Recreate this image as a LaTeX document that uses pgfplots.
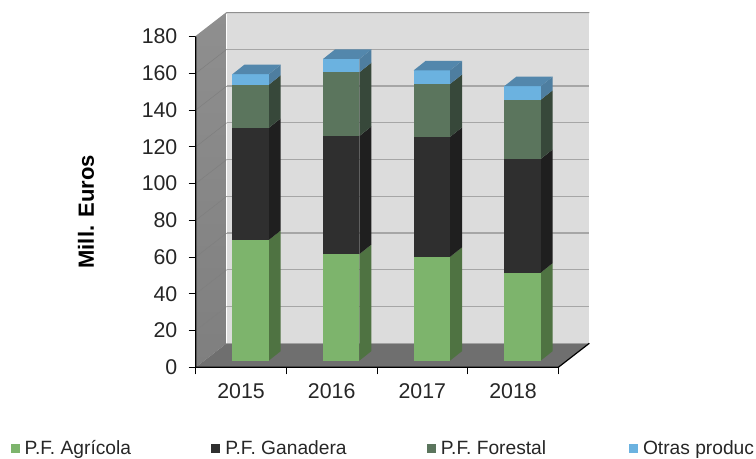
\documentclass[border=0pt]{standalone}
\usepackage{fontspec}
\setmainfont{Liberation Sans}
\usepackage{pgfplots}
\pgfplotsset{compat=1.18}

\definecolor{wallback}{HTML}{DCDCDC}
\definecolor{walltop}{HTML}{8F8F8F}
\definecolor{wallbot}{HTML}{7F7F7F}
\definecolor{floorc}{HTML}{6F6F6F}
\definecolor{gridc}{HTML}{A6A6A6}
\definecolor{gridside}{HTML}{7F7F7F}
\definecolor{agri}{HTML}{7DB46C}
\definecolor{agriS}{HTML}{4F7342}
\definecolor{gana}{HTML}{2F2F2F}
\definecolor{ganaS}{HTML}{1F1F1F}
\definecolor{fore}{HTML}{5B755D}
\definecolor{foreS}{HTML}{37483A}
\definecolor{otra}{HTML}{6BB2E0}
\definecolor{otraS}{HTML}{4E7EA0}
\definecolor{otraT}{HTML}{5387AC}

% depth of the walls and of the bars, in axis units
\newcommand{\wdx}{0.342}
\newcommand{\wdy}{13.06}

% one block of a bar: category, bottom, top, front colour, side colour
\newcommand{\barblock}[5]{%
  \pgfmathsetmacro\xl{#1+0.404}%
  \pgfmathsetmacro\xr{\xl+0.4015}%
  \pgfmathsetmacro\xb{\xr+0.132}%
  \pgfmathsetmacro\yl{#2+3.6}%
  \pgfmathsetmacro\yt{#3+3.6}%
  \pgfmathsetmacro\ylb{\yl+5.17}%
  \pgfmathsetmacro\ytb{\yt+5.17}%
  \addplot[forget plot,draw=none,fill=#5] coordinates {(\xr,\yl) (\xb,\ylb) (\xb,\ytb) (\xr,\yt)} --cycle;
  \addplot[forget plot,draw=none,fill=#4] coordinates {(\xl,\yl) (\xr,\yl) (\xr,\yt) (\xl,\yt)} --cycle;
}
% a whole stacked bar: category and the four values
\newcommand{\stackbar}[5]{%
  \pgfmathsetmacro\sa{#2}%
  \pgfmathsetmacro\sb{\sa+#3}%
  \pgfmathsetmacro\sc{\sb+#4}%
  \pgfmathsetmacro\sd{\sc+#5}%
  \barblock{#1}{0}{\sa}{agri}{agriS}%
  \barblock{#1}{\sa}{\sb}{gana}{ganaS}%
  \barblock{#1}{\sb}{\sc}{fore}{foreS}%
  \barblock{#1}{\sc}{\sd}{otra}{otraS}%
  \pgfmathsetmacro\xa{\xl+0.132}%
  \addplot[forget plot,draw=none,fill=otraT] coordinates {(\xl,\yt) (\xr,\yt) (\xb,\ytb) (\xa,\ytb)} --cycle;
}

\begin{document}
\begin{tikzpicture}
\useasboundingbox (0,0) rectangle (567pt,344.25pt);
\begin{axis}[
    at={(146.8pt,68.8pt)},
    anchor=origin,
    scale only axis,
    width=295.2pt,
    height=266pt,
    clip=false,
    xmin=0, xmax=4.342,
    ymin=0, ymax=193.06,
    axis x line*=bottom,
    axis y line*=left,
    axis line style={draw=none},
    tick align=outside,
    tick style={black,line width=0.8pt},
    major tick length=5.25pt,
    ytick={0,20,...,180},
    xtick={0,1,2,3,4},
    xticklabels={},
    extra x ticks={0.5,1.5,2.5,3.5},
    extra x tick labels={2015,2016,2017,2018},
    extra x tick style={major tick length=0pt,tick style={draw=none}},
    /pgf/number format/assume math mode=true,
    tick label style={font=\fontsize{16}{18}\selectfont,text=black!85},
    xticklabel style={yshift=-9pt},
    yticklabel style={xshift=-5pt},
    ylabel={\textbf{Mill. Euros}},
    every axis y label/.style={at={(axis description cs:-0.279,0.438)},rotate=90,anchor=center,font=\fontsize{16.5}{18}\selectfont},
    legend columns=4,
    legend cell align=left,
    legend style={at={(axis description cs:-0.4706,-0.229)},anchor=west,draw=none,fill=none,inner sep=0pt,outer sep=0pt,
      font=\fontsize{14.4}{18}\selectfont,text=black!85,
      /tikz/every even column/.append style={column sep=0pt}},
    legend image code/.code={\path[#1] (0pt,-3.4pt) rectangle (6.75pt,3.4pt);\path (8.65pt,0pt);},
]
% walls and floor
\addplot[forget plot,draw=none,top color=walltop,bottom color=wallbot] coordinates {(0,0) (0.342,13.06) (0.342,193.06) (0,180)} --cycle;
\addplot[forget plot,draw=none,fill=wallback] coordinates {(0.342,13.06) (4.342,13.06) (4.342,193.06) (0.342,193.06)} --cycle;
\addplot[forget plot,draw=none,fill=floorc] coordinates {(0,0) (4,0) (4.342,13.06) (0.342,13.06)} --cycle;
% grid lines on both walls
\pgfplotsinvokeforeach{20,40,...,160}{
  \pgfmathsetmacro\gy{#1+\wdy}
  \addplot[forget plot,gridc,line width=1pt] coordinates {(0.342,\gy) (4.342,\gy)};
  \addplot[forget plot,gridside,line width=0.4pt] coordinates {(0,#1) (0.342,\gy)};
}
\addplot[forget plot,walltop,line width=0.8pt] coordinates {(0,180) (0.342,193.06) (4.342,193.06)};
% bars
\stackbar{0}{65.7}{61.0}{23.5}{5.7}
\stackbar{1}{58.0}{64.3}{34.7}{7.2}
\stackbar{2}{56.5}{65.3}{28.8}{7.4}
\stackbar{3}{47.9}{61.9}{32.2}{7.4}
% axis lines
\addplot[forget plot,black,line width=0.9pt] coordinates {(0,180) (0,0) (4,0) (4.342,13.06)};
% legend
\addlegendimage{fill=agri,draw=none}
\addlegendentry{\makebox[137.8pt][l]{P.F. Agrícola}}
\addlegendimage{fill=gana,draw=none}
\addlegendentry{\makebox[149pt][l]{P.F. Ganadera}}
\addlegendimage{fill=fore,draw=none}
\addlegendentry{\makebox[139pt][l]{P.F. Forestal}}
\addlegendimage{fill=otra,draw=none}
\addlegendentry{Otras produc}
\end{axis}
\end{tikzpicture}
\end{document}
